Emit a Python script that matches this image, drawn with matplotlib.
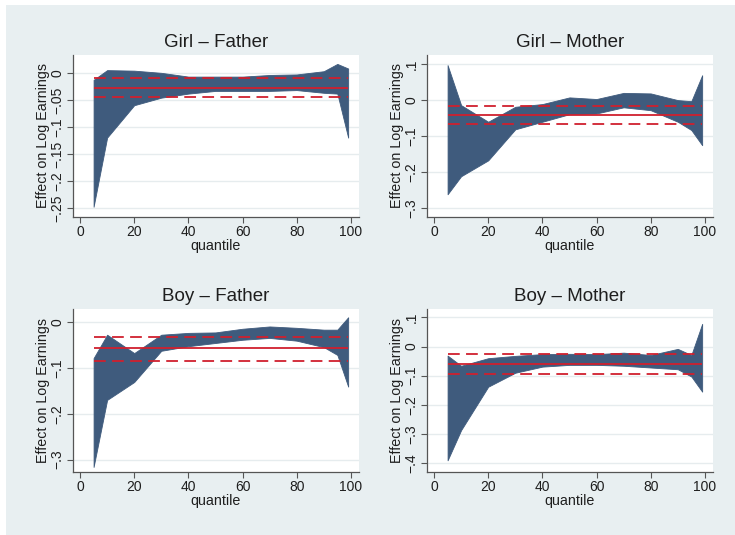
import numpy as np
import matplotlib
matplotlib.use("Agg")
import matplotlib.pyplot as plt
from matplotlib.patches import Rectangle

plt.rcParams['font.family'] = ['Liberation Sans', 'DejaVu Sans']

# quantiles at which the regressions were run
quantiles = [5, 10, 20, 30, 40, 50, 60, 70, 80, 90, 95, 99]

titles = ["Girl \u2013 Father", "Girl \u2013 Mother", "Boy \u2013 Father", "Boy \u2013 Mother"]

# confidence band, upper and lower bound per quantile
girl_father_hi = [-0.012, 0.006, 0.005, 0.001, -0.006, -0.006, -0.006, -0.003, -0.002, 0.004, 0.0175, 0.009]
girl_father_lo = [-0.247, -0.119, -0.059, -0.045, -0.0375, -0.0325, -0.0325, -0.0325, -0.031, -0.036, -0.0375, -0.119]
girl_mother_hi = [0.097, -0.014, -0.060, -0.0185, -0.011, 0.0075, 0.003, 0.020, 0.0185, 0.0, -0.003, 0.069]
girl_mother_lo = [-0.261, -0.211, -0.167, -0.081, -0.060, -0.039, -0.037, -0.020, -0.028, -0.060, -0.083, -0.125]
boy_father_hi = [-0.079, -0.028, -0.068, -0.028, -0.024, -0.023, -0.015, -0.010, -0.013, -0.017, -0.017, 0.010]
boy_father_lo = [-0.316, -0.170, -0.131, -0.063, -0.053, -0.046, -0.039, -0.035, -0.041, -0.055, -0.072, -0.141]
boy_mother_hi = [-0.031, -0.066, -0.040, -0.032, -0.026, -0.025, -0.026, -0.021, -0.029, -0.008, -0.029, 0.078]
boy_mother_lo = [-0.391, -0.287, -0.138, -0.090, -0.069, -0.063, -0.063, -0.066, -0.072, -0.078, -0.103, -0.155]

# OLS estimate and its confidence interval (red lines)
ols_est = [-0.027, -0.041, -0.058, -0.060]
ols_hi = [-0.009, -0.015, -0.033, -0.026]
ols_lo = [-0.044, -0.067, -0.085, -0.094]

band_hi = [girl_father_hi, girl_mother_hi, boy_father_hi, boy_mother_hi]
band_lo = [girl_father_lo, girl_mother_lo, boy_father_lo, boy_mother_lo]

yticks = [
    [-0.25, -0.2, -0.15, -0.1, -0.05, 0],
    [-0.3, -0.2, -0.1, 0, 0.1],
    [-0.3, -0.2, -0.1, 0],
    [-0.4, -0.3, -0.2, -0.1, 0, 0.1],
]
ytick_labels = [
    ["\u2212.25", "\u2212.2", "\u2212.15", "\u2212.1", "\u2212.05", "0"],
    ["\u2212.3", "\u2212.2", "\u2212.1", "0", ".1"],
    ["\u2212.3", "\u2212.2", "\u2212.1", "0"],
    ["\u2212.4", "\u2212.3", "\u2212.2", "\u2212.1", "0", ".1"],
]
ylims = [(-0.266, 0.034), (-0.324, 0.125), (-0.327, 0.028), (-0.431, 0.129)]
xticks = [0, 20, 40, 60, 80, 100]

W, H = 735, 535
fig = plt.figure(figsize=(W / 100, H / 100), dpi=100, facecolor="white")
fig.patches.append(Rectangle((6 / W, 0), 1, 1 - 5 / H, transform=fig.transFigure,
                             facecolor="#e8eff1", edgecolor="none", zorder=-10))

band_col = "#3f5b7d"
red = "#d0202e"
grid_col = "#e6ecee"
axis_col = "#555555"
txt_col = "#1e1e1e"

# axes boxes in pixels: left, top, right, bottom
boxes = [(73, 55, 359, 217), (427, 55, 713, 217), (73, 309, 359, 472), (427, 309, 713, 472)]

for i in range(4):
    l, t, r, b = boxes[i]
    ax = fig.add_axes([l / W, 1 - b / H, (r - l) / W, (b - t) / H])
    ax.set_facecolor("white")
    ax.fill_between(quantiles, band_lo[i], band_hi[i], color=band_col, lw=0.6, zorder=2)
    ax.hlines(ols_est[i], quantiles[0], quantiles[-1], color=red, lw=1.3, zorder=3)
    for v in (ols_hi[i], ols_lo[i]):
        ax.hlines(v, quantiles[0], quantiles[-1], color=red, lw=1.3,
                  linestyles=(0, (6.5, 3.5)), zorder=3)
    ax.set_xlim(-2.6, 103)
    ax.set_ylim(*ylims[i])
    ax.set_xticks(xticks)
    ax.set_yticks(yticks[i])
    ax.set_yticklabels(ytick_labels[i], rotation=90, va="center")
    for y in yticks[i]:
        ax.axhline(y, color=grid_col, lw=1.0, zorder=1)
    for s in ("top", "right"):
        ax.spines[s].set_visible(False)
    for s in ("left", "bottom"):
        ax.spines[s].set_color(axis_col)
        ax.spines[s].set_linewidth(0.9)
    ax.tick_params(direction="out", length=4, width=0.8, color=axis_col,
                   labelsize=10, labelcolor=txt_col, pad=2)
    ax.set_xlabel("quantile", fontsize=10.3, color=txt_col, labelpad=0)
    ax.set_ylabel("Effect on Log Earnings", fontsize=10.3, color=txt_col, labelpad=0.5)
    ax.set_title(titles[i], fontsize=13.5, color=txt_col, pad=6)

fig.savefig("out.png", dpi=100, facecolor=fig.get_facecolor())
